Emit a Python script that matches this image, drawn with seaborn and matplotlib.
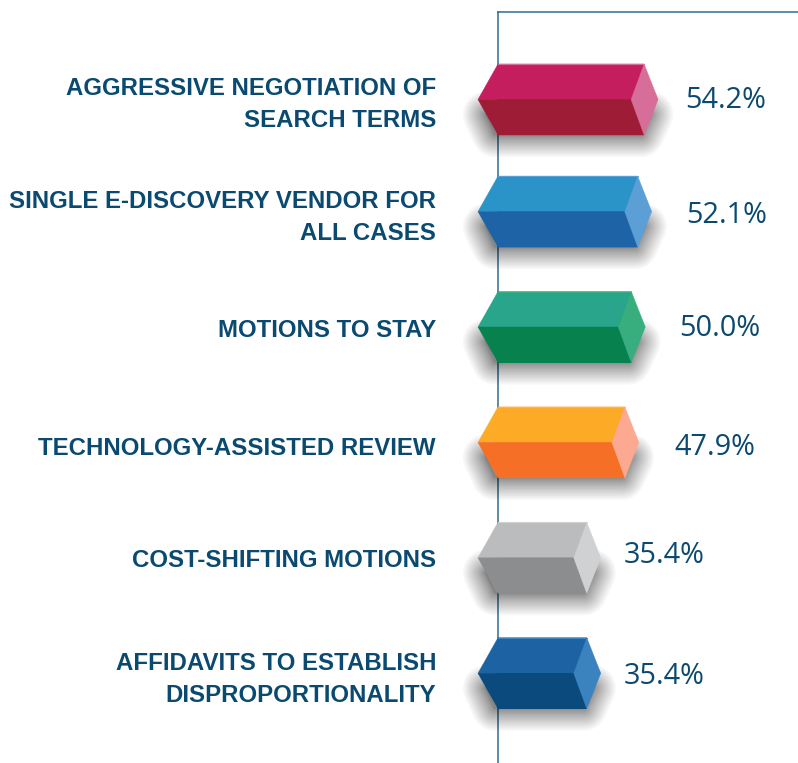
import matplotlib
matplotlib.use('Agg')
import matplotlib.pyplot as plt
from matplotlib.patches import Polygon
from matplotlib.transforms import ScaledTranslation
import pandas as pd
import seaborn as sns

LABELS = ['AGGRESSIVE NEGOTIATION OF\nSEARCH TERMS', 'SINGLE E-DISCOVERY VENDOR FOR\nALL CASES',
          'MOTIONS TO STAY', 'TECHNOLOGY-ASSISTED REVIEW', 'COST-SHIFTING MOTIONS',
          'AFFIDAVITS TO ESTABLISH\nDISPROPORTIONALITY']
VALUES = [54.2, 52.1, 50.0, 47.9, 35.4, 35.4]
VALUE_TEXT = ['54.2%', '52.1%', '50.0%', '47.9%', '35.4%', '35.4%']

TOP_COLORS = ['#C41E5F', '#2A93C8', '#28A58A', '#FDAA26', '#BBBCBE', '#1D63A3']
FRONT_COLORS = ['#9F1C36', '#1D63A6', '#07824F', '#F66F27', '#8C8D8F', '#0B4A7C']
SIDE_COLORS = ['#D66E99', '#5B9FD6', '#38AE7E', '#FCA991', '#D0D1D3', '#3B83BE']

INK = '#0B4A70'
AXIS_COLOR = '#2F6C8F'
BASE = 6.3          # the bars start here, the axis is cut off
PX_PER_UNIT = 3.05
ROW_PX = 115.4

# small per row shifts in pixels, the source layout is not quite regular
ROW_NUDGE = [3.3, 0, 0, 0, 0, 0]
LABEL_NUDGE = [1.5, -1, 1, 4, 0, -0.5]
VALUE_GAP = [41, 48, 48, 49, 37, 37]
VALUE_NUDGE = [1.5, 3.4, 1, 5, -2, 3.5]

sns.set_theme(style='white')
plt.rcParams['font.family'] = ['Liberation Sans', 'DejaVu Sans']

fig = plt.figure(figsize=(7.98, 7.63), dpi=100)
ax = fig.add_axes([498 / 798, 0, 300 / 798, 751 / 763])

df = pd.DataFrame({'label': LABELS, 'value': VALUES})
sns.barplot(data=df, x='value', y='label', hue='label', palette=FRONT_COLORS, legend=False,
            width=71 / ROW_PX, saturation=1, ax=ax, zorder=3)

ax.set_xlim(BASE, BASE + 300 / PX_PER_UNIT)
ax.set_ylim(5.778, -0.7296)
ax.set_xlabel('')
ax.set_ylabel('')
ax.set_xticks([])
ax.tick_params(axis='y', length=0, pad=62 * 0.72)

for side in ['right', 'bottom']:
    ax.spines[side].set_visible(False)
for side in ['left', 'top']:
    ax.spines[side].set_visible(True)
    ax.spines[side].set_color(AXIS_COLOR)
    ax.spines[side].set_linewidth(1.1)
    ax.spines[side].set_zorder(1)

for lab, nudge in zip(ax.get_yticklabels(), LABEL_NUDGE):
    lab.set_fontsize(17.3)
    lab.set_fontweight('bold')
    lab.set_color(INK)
    lab.set_multialignment('right')
    lab.set_linespacing(1.5)
    lab.set_transform(lab.get_transform() + ScaledTranslation(0, -nudge / 100, fig.dpi_scale_trans))

px_x = 1 / PX_PER_UNIT
px_y = 1 / ROW_PX

for i, bar in enumerate(ax.patches[:len(VALUES)]):
    # cut the bar back to the baseline, it is hidden under the faces below
    bar.set_x(BASE)
    bar.set_width(VALUES[i] - BASE)
    bar.set_y(bar.get_y() + ROW_NUDGE[i] * px_y)
    bar.set_linewidth(0)

    top = bar.get_y()
    bottom = top + bar.get_height()
    mid = (top + bottom) / 2
    left = BASE
    right = VALUES[i]
    tip_l = left - 20 * px_x
    inner = right - 13 * px_x
    tip_r = right + 14 * px_x

    # soft shadow, stacked see-through strokes round the lower half of the bar
    low = mid + 15 * px_y
    floor = bottom - 1 * px_y
    outline = [(tip_l + 8 * px_x, low), (tip_r - 8 * px_x, low),
               (right - 3 * px_x, floor), (left - 3 * px_x, floor)]
    for k in range(1, 19):
        ax.add_patch(Polygon(outline, closed=True, facecolor='none', edgecolor='black', alpha=0.034,
                             linewidth=0.72 * 2 * 23 * (k / 18) ** 1.6, joinstyle='round',
                             clip_on=False, zorder=2))

    faces = [
        ([(tip_l, mid), (left, top), (right, top), (inner, mid)], TOP_COLORS[i]),
        ([(tip_l, mid), (left, bottom), (right, bottom), (inner, mid)], FRONT_COLORS[i]),
        ([(inner, mid), (right, top), (tip_r, mid), (right, bottom)], SIDE_COLORS[i]),
    ]
    for pts, col in faces:
        ax.add_patch(Polygon(pts, closed=True, facecolor=col, edgecolor=col, linewidth=0.3,
                             clip_on=False, zorder=4))
    # lighter rim along the top edge
    ax.plot([left, right], [top, top], color=SIDE_COLORS[i], lw=0.8, zorder=5, clip_on=False)

    ax.annotate(VALUE_TEXT[i], xy=(right, mid), xytext=(VALUE_GAP[i] * 0.72, -VALUE_NUDGE[i] * 0.72),
                textcoords='offset points', ha='left', va='center', fontsize=20.8, color=INK,
                family=['Open Sans', 'DejaVu Sans'], zorder=6)

fig.savefig('out.png', dpi=100)
